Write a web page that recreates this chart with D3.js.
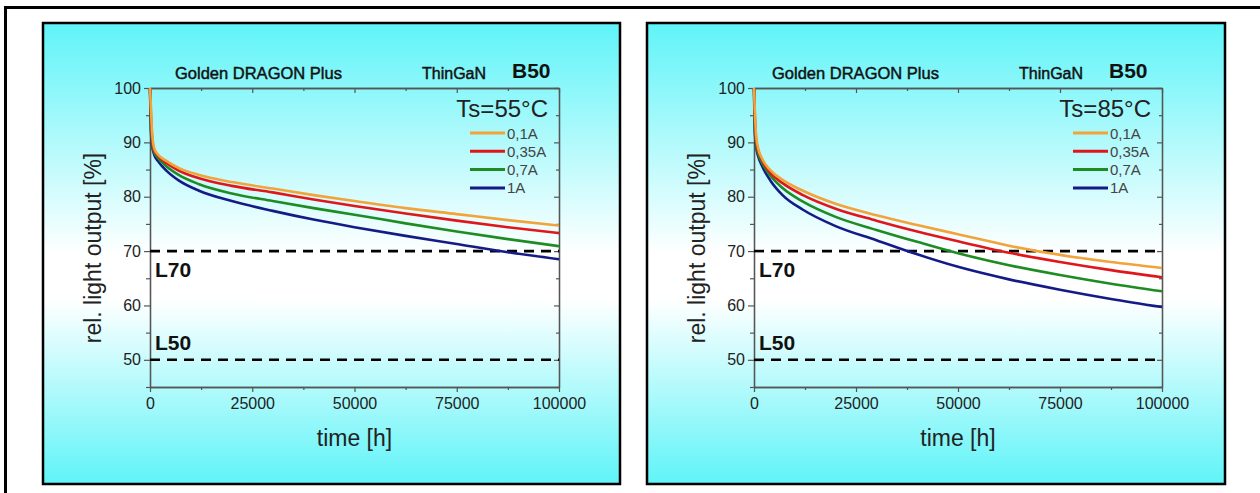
<!DOCTYPE html>
<html><head><meta charset="utf-8">
<script src="https://cdn.jsdelivr.net/npm/d3@7"></script>
<style>body{margin:0;background:#fff}svg{display:block}</style>
</head><body><svg id="c" width="1260" height="493"></svg>
<script>
// ---- data ----
const times = [0, 200, 500, 1000, 2000, 4000, 7000, 12000, 20000, 30000, 40000, 50000, 62500, 75000, 87500, 100000];
const seriesNames = ["0,1A", "0,35A", "0,7A", "1A"];
const seriesColors = ["#F2A33A", "#E0161A", "#1E8C23", "#151B86"];

// Ts = 55°C
const t55_01A  = [100, 97.0, 92.0, 89.0, 87.7, 86.6, 85.3, 84.0, 82.7, 81.5, 80.3, 79.2, 77.9, 76.8, 75.7, 74.7];
const t55_035A = [100, 95.5, 91.0, 88.6, 87.5, 86.2, 84.8, 83.4, 82.0, 80.8, 79.5, 78.3, 76.9, 75.6, 74.4, 73.3];
const t55_07A  = [100, 93.5, 90.0, 88.2, 87.1, 85.6, 84.0, 82.3, 80.6, 79.2, 77.9, 76.7, 75.1, 73.6, 72.2, 70.9];
const t55_1A   = [100, 92.5, 89.5, 87.8, 86.5, 84.8, 83.0, 81.1, 79.2, 77.4, 75.8, 74.4, 72.8, 71.3, 69.8, 68.5];
// Ts = 85°C
const t85_01A  = [100, 96.0, 91.5, 89.0, 87.0, 84.9, 83.1, 81.1, 78.7, 76.6, 74.8, 73.1, 71.0, 69.3, 68.0, 66.9];
const t85_035A = [100, 95.0, 90.5, 88.6, 86.7, 84.4, 82.5, 80.3, 77.8, 75.6, 73.6, 71.8, 69.7, 68.0, 66.5, 65.2];
const t85_07A  = [100, 93.0, 89.8, 88.0, 86.2, 83.9, 81.6, 79.1, 76.3, 73.9, 71.7, 69.6, 67.4, 65.6, 64.0, 62.6];
const t85_1A   = [100, 92.0, 89.3, 87.5, 85.6, 83.0, 80.3, 77.6, 74.6, 72.0, 69.4, 67.1, 64.8, 62.9, 61.2, 59.7];

const panelTitles = ["Ts=55°C", "Ts=85°C"];
const panelSeries = [[t55_01A, t55_035A, t55_07A, t55_1A], [t85_01A, t85_035A, t85_07A, t85_1A]];
const xTicks = [0, 25000, 50000, 75000, 100000];
const xMinorTicks = [12500, 37500, 62500, 87500];
const yTicks = [50, 60, 70, 80, 90, 100];
const yMinorTicks = [45, 55, 65, 75, 85, 95];
const limitLevels = [70, 50];
const limitLabels = ["L70", "L50"];
const headerTexts = ["Golden DRAGON Plus", "ThinGaN", "B50"];
const xTitle = "time [h]";
const yTitle = "rel. light output [%]";

// ---- drawing ----
const svg = d3.select("#c");
const FONT = "'Liberation Sans', Arial, sans-serif";
const defs = svg.append("defs");
const grad = defs.append("linearGradient").attr("id", "bg").attr("x1", 0).attr("y1", 0).attr("x2", 0).attr("y2", 1);
[[0, "#5FF4F8"], [0.5, "#FFFFFF"], [0.6, "#FFFFFF"], [1, "#5FF4F8"]].forEach(s =>
  grad.append("stop").attr("offset", s[0]).attr("stop-color", s[1]));

// outer frame
svg.append("path").attr("d", "M5.5,493V7.5H1260").attr("fill", "none").attr("stroke", "#000").attr("stroke-width", 3);

const panels = [
  {px: 43, pw: 577, plotL: 150, plotR: 559, hdx: 0},
  {px: 647, pw: 578, plotL: 754, plotR: 1162, hdx: -7}
];
const py = 23, ph = 461;

panels.forEach((p, pi) => {
  const g = svg.append("g");
  g.append("rect").attr("x", p.px).attr("y", py).attr("width", p.pw).attr("height", ph)
    .attr("fill", "url(#bg)").attr("stroke", "#000").attr("stroke-width", 2.5);

  const x = d3.scaleLinear().domain([0, 100000]).range([p.plotL, p.plotR]);
  const y = d3.scaleLinear().domain([45, 100]).range([387, 88]);
  const axisColor = "#555";

  const styleAxis = sel => {
    sel.selectAll("path.domain").attr("stroke", axisColor).attr("stroke-width", 1.3);
    sel.selectAll(".tick line").attr("stroke", axisColor).attr("stroke-width", 1.2);
    sel.selectAll(".tick text").attr("fill", "#222").attr("font-family", FONT).attr("font-size", 16);
  };

  // bottom axis
  g.append("g").attr("transform", "translate(0,387)")
    .call(d3.axisBottom(x).tickValues(xTicks).tickSize(5).tickPadding(6).tickSizeOuter(0).tickFormat(d3.format("d")))
    .call(styleAxis);
  g.append("g").attr("transform", "translate(0,387)")
    .call(d3.axisBottom(x).tickValues(xMinorTicks).tickSize(3).tickSizeOuter(0).tickFormat(""))
    .call(styleAxis);
  // top axis (inward)
  g.append("g").attr("transform", "translate(0,88)")
    .call(d3.axisBottom(x).tickValues(xTicks).tickSize(5).tickSizeOuter(0).tickFormat(""))
    .call(styleAxis);
  g.append("g").attr("transform", "translate(0,88)")
    .call(d3.axisBottom(x).tickValues(xMinorTicks).tickSize(3).tickSizeOuter(0).tickFormat(""))
    .call(styleAxis);
  // left axis
  g.append("g").attr("transform", `translate(${p.plotL},0)`)
    .call(d3.axisLeft(y).tickValues(yTicks).tickSize(6).tickPadding(3).tickSizeOuter(0))
    .call(styleAxis);
  g.append("g").attr("transform", `translate(${p.plotL},0)`)
    .call(d3.axisLeft(y).tickValues(yMinorTicks).tickSize(4).tickSizeOuter(0).tickFormat(""))
    .call(styleAxis);
  // right axis (inward)
  g.append("g").attr("transform", `translate(${p.plotR},0)`)
    .call(d3.axisLeft(y).tickValues(yTicks).tickSize(5).tickSizeOuter(0).tickFormat(""))
    .call(styleAxis);
  g.append("g").attr("transform", `translate(${p.plotR},0)`)
    .call(d3.axisLeft(y).tickValues(yMinorTicks).tickSize(3).tickSizeOuter(0).tickFormat(""))
    .call(styleAxis);

  // limit lines
  limitLevels.forEach((lv, i) => {
    g.append("line").attr("x1", x(0)).attr("x2", x(100000)).attr("y1", y(lv)).attr("y2", y(lv))
      .attr("stroke", "#000").attr("stroke-width", 2.6).attr("stroke-dasharray", "10,7");
    g.append("text").attr("x", x(0) + 5).attr("y", i === 0 ? y(lv) + 26 : y(lv) - 10)
      .attr("font-family", FONT).attr("font-weight", "bold").attr("font-size", 21).attr("fill", "#111")
      .text(limitLabels[i]);
  });

  // curves
  const line = d3.line().x(d => x(d[0])).y(d => y(d[1])).curve(d3.curveMonotoneX);
  const ser = panelSeries[pi];
  for (let s = ser.length - 1; s >= 0; s--) {
    g.append("path").datum(times.map((t, i) => [t, ser[s][i]]))
      .attr("d", line).attr("fill", "none").attr("stroke", seriesColors[s]).attr("stroke-width", 2.6)
      .attr("stroke-linejoin", "round");
  }

  // legend
  seriesNames.forEach((n, i) => {
    const ly = 133 + i * 18.3;
    g.append("line").attr("x1", p.plotR - 89).attr("x2", p.plotR - 54).attr("y1", ly).attr("y2", ly)
      .attr("stroke", seriesColors[i]).attr("stroke-width", 3);
    g.append("text").attr("x", p.plotR - 52).attr("y", ly + 5.5)
      .attr("font-family", FONT).attr("font-size", 15).attr("fill", "#444").text(n);
  });
  g.append("text").attr("x", p.plotR - 11).attr("y", 117).attr("text-anchor", "end")
    .attr("font-family", FONT).attr("font-size", 24).attr("fill", "#222").text(panelTitles[pi]);

  // header
  g.append("text").attr("x", p.plotL + 25 + p.hdx).attr("y", 79)
    .attr("font-family", FONT).attr("font-size", 16.5).attr("fill", "#111")
    .attr("stroke", "#111").attr("stroke-width", 0.45).text(headerTexts[0]);
  g.append("text").attr("x", p.plotL + 272 + p.hdx).attr("y", 79)
    .attr("font-family", FONT).attr("font-size", 16).attr("fill", "#111")
    .attr("stroke", "#111").attr("stroke-width", 0.45).text(headerTexts[1]);
  g.append("text").attr("x", p.plotL + 362 + p.hdx).attr("y", 78)
    .attr("font-family", FONT).attr("font-size", 21).attr("font-weight", "bold").attr("fill", "#111")
    .text(headerTexts[2]);

  // axis titles
  g.append("text").attr("x", (p.plotL + p.plotR) / 2).attr("y", 446).attr("text-anchor", "middle")
    .attr("font-family", FONT).attr("font-size", 23).attr("fill", "#222").text(xTitle);
  g.append("text").attr("transform", `translate(${p.plotL - 49},248) rotate(-90)`).attr("text-anchor", "middle")
    .attr("font-family", FONT).attr("font-size", 23).attr("fill", "#222").text(yTitle);
});
</script></body></html>
